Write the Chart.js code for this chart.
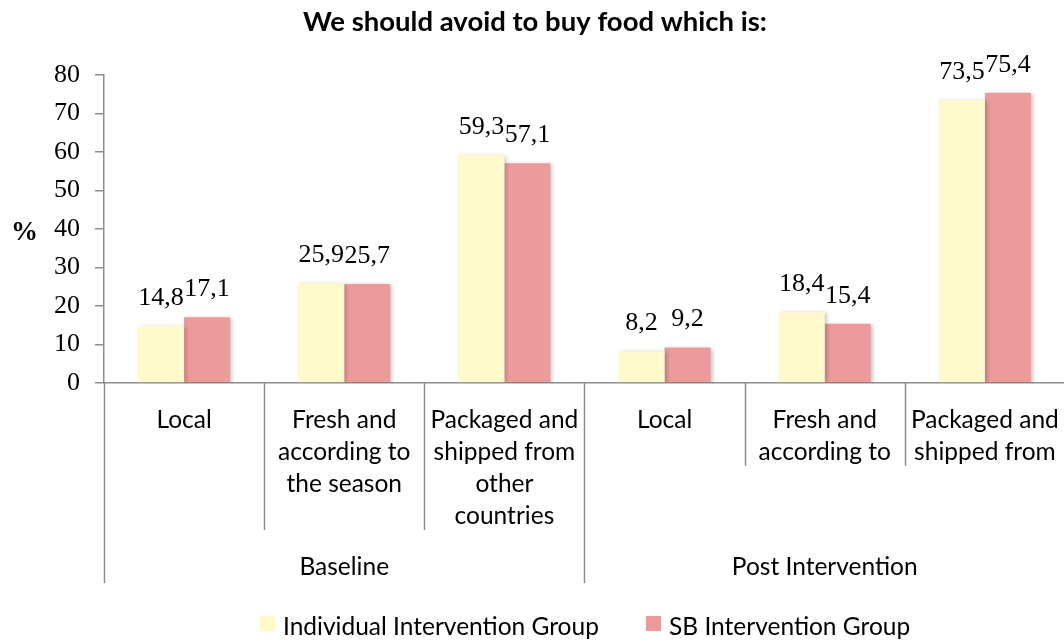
<!DOCTYPE html>
<html>
<head>
<meta charset="utf-8">
<script src="https://cdn.jsdelivr.net/npm/chart.js@4.4.1/dist/chart.umd.min.js"></script>
<style>
  html, body { margin: 0; padding: 0; overflow: hidden; background: #fff; }
  #wrap { width: 1072px; height: 643px; }
</style>
</head>
<body>
<div id="wrap"><canvas id="myChart"></canvas></div>
<script>
const categories = [
  ['Local'],
  ['Fresh and', 'according to', 'the season'],
  ['Packaged and', 'shipped from', 'other', 'countries'],
  ['Local'],
  ['Fresh and', 'according to'],
  ['Packaged and', 'shipped from']
];
const groups = ['Baseline', 'Post Intervention'];
const individualGroup = [14.8, 25.9, 59.3, 8.2, 18.4, 73.5];
const sbGroup = [17.1, 25.7, 57.1, 9.2, 15.4, 75.4];
const yTicks = [0, 10, 20, 30, 40, 50, 60, 70, 80];

const sansFont = 'Lato, "Open Sans", sans-serif';
const serifFont = '"Liberation Serif", serif';
const axisGray = '#8c8c8c';

// shadows under the bars
const barShadow = {
  id: 'barShadow',
  beforeDatasetsDraw(chart) {
    const ctx = chart.ctx;
    ctx.save();
    ctx.shadowColor = 'rgba(0,0,0,0.22)';
    ctx.shadowBlur = 4;
    ctx.shadowOffsetX = 2;
    ctx.shadowOffsetY = 1;
  },
  afterDatasetsDraw(chart) {
    chart.ctx.restore();
  }
};

// value labels, dividers, group labels, % sign and legend
const extras = {
  id: 'extras',
  afterDraw(chart) {
    const ctx = chart.ctx;
    const x = chart.scales.x;
    const area = chart.chartArea;
    const n = categories.length;
    const step = x.width / n;

    ctx.save();
    ctx.fillStyle = '#000';
    ctx.font = '26px ' + serifFont;
    ctx.textAlign = 'center';
    ctx.textBaseline = 'middle';
    chart.data.datasets.forEach((ds, di) => {
      chart.getDatasetMeta(di).data.forEach((bar, i) => {
        ctx.fillText(ds.data[i].toFixed(1).replace('.', ','), bar.x, bar.y - 28);
      });
    });

    // dividers under the axis
    ctx.strokeStyle = axisGray;
    ctx.lineWidth = 1.5;
    for (let i = 0; i <= n; i++) {
      const px = Math.round(x.left + step * i) + 0.5;
      let bottom = 530;
      if (i === 0 || i === 3 || i === n) bottom = 583;
      else if (i > 3) bottom = 466;
      ctx.beginPath();
      ctx.moveTo(px, area.bottom);
      ctx.lineTo(px, bottom);
      ctx.stroke();
    }

    // group labels
    ctx.font = '24.5px ' + sansFont;
    ctx.fillStyle = '#000';
    groups.forEach((g, gi) => {
      const cx = x.left + step * (gi * 3 + 1.5);
      ctx.fillText(g, cx, 567);
    });

    // % sign
    ctx.font = 'bold 27px ' + serifFont;
    ctx.textAlign = 'left';
    ctx.fillText('%', 11, 233);

    // legend
    ctx.font = '24.5px ' + sansFont;
    ctx.textBaseline = 'middle';
    const legendPos = [260, 646];
    chart.data.datasets.forEach((ds, di) => {
      const lx = legendPos[di];
      ctx.fillStyle = ds.backgroundColor;
      ctx.fillRect(lx, 616, 15, 15);
      ctx.fillStyle = '#000';
      ctx.fillText(ds.label, lx + 23, 627);
    });
    ctx.restore();
  }
};

const myChartElement = document.getElementById('myChart');

const myDataset = [
  {
    label: 'Individual Intervention Group',
    data: individualGroup,
    backgroundColor: '#FFF9CC',
    borderWidth: 0
  },
  {
    label: 'SB Intervention Group',
    data: sbGroup,
    backgroundColor: '#EC9A9A',
    borderWidth: 0
  }
];

const myOptions = {
  responsive: true,
  maintainAspectRatio: false,
  animation: false,
  layout: { padding: { top: 0, right: 2, bottom: 0, left: 0 } },
  datasets: {
    bar: { categoryPercentage: 0.574, barPercentage: 1 }
  },
  plugins: {
    legend: { display: false },
    tooltip: { enabled: false },
    title: {
      display: true,
      text: 'We should avoid to buy food which is:',
      color: '#000',
      font: { family: sansFont, size: 27.5, weight: 'bold' },
      padding: { top: 6, bottom: 36 }
    }
  },
  scales: {
    y: {
      min: 0,
      max: 80,
      afterFit(scale) { scale.width = 104; },
      afterBuildTicks(scale) { scale.ticks = yTicks.map(v => ({ value: v })); },
      border: { display: true, color: axisGray, width: 1.5 },
      grid: { display: true, drawOnChartArea: false, tickLength: 9, color: axisGray, lineWidth: 1.5 },
      ticks: {
        color: '#000',
        padding: 15,
        font: { family: serifFont, size: 26 }
      }
    },
    x: {
      afterFit(scale) { scale.height = 260; },
      border: { display: true, color: axisGray, width: 1.5 },
      grid: { display: false },
      ticks: {
        color: '#000',
        padding: 13,
        maxRotation: 0,
        autoSkip: false,
        font: { family: sansFont, size: 24.5, lineHeight: 1.306 }
      }
    }
  }
};

const myChart = new Chart(myChartElement, {
  type: 'bar',
  data: {
    labels: categories,
    datasets: myDataset
  },
  options: myOptions,
  plugins: [barShadow, extras]
});
</script>
</body>
</html>
